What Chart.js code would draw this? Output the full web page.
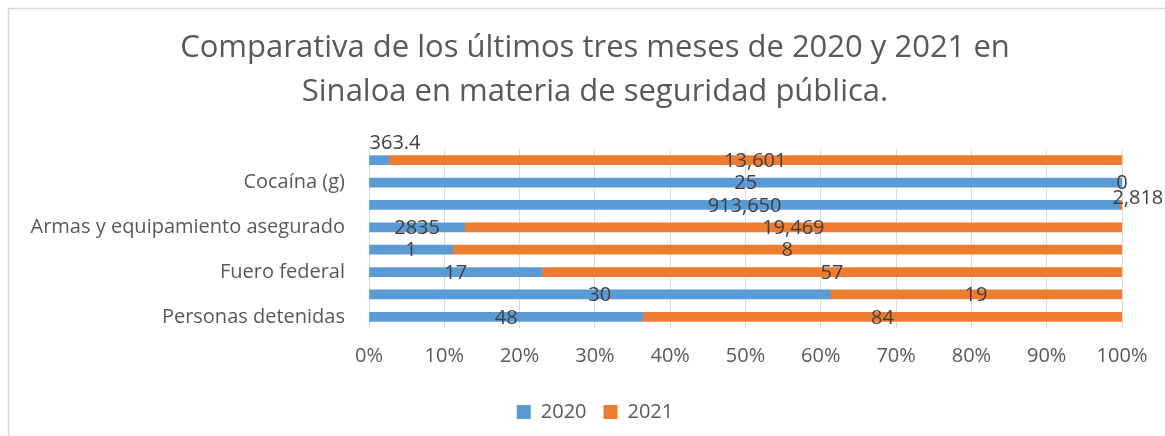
<!DOCTYPE html>
<html>
<head>
<meta charset="utf-8">
<script src="https://cdn.jsdelivr.net/npm/chart.js@4"></script>
<style>
  html, body { margin: 0; padding: 0; background: #ffffff; }
  #wrap { width: 1165px; height: 436px; }
</style>
</head>
<body>
<div id="wrap"><canvas id="chart" width="1165" height="436"></canvas></div>
<script>
// Categories, top to bottom (Excel skipped every other label)
const categories = ['', 'Cocaína (g)', '', 'Armas y equipamiento asegurado', '', 'Fuero federal', '', 'Personas detenidas'];
const values2020 = [363.4, 25, 913650, 2835, 1, 17, 30, 48];
const values2021 = [13601, 0, 2818, 19469, 8, 57, 19, 84];
const seriesNames = ['2020', '2021'];
const xTicks = [0, 10, 20, 30, 40, 50, 60, 70, 80, 90, 100];

const COLORS = {
  blue: '#5b9bd5',
  orange: '#ed7d31',
  axisText: '#595959',
  labelText: '#404040',
  grid: '#d9d9d9',
  frame: '#d9d9d9'
};
const FONT = '"Open Sans", Lato, sans-serif';

// 100% stacked: share of each year in the row total
const totals = values2020.map((v, i) => v + values2021[i]);
const pct2020 = values2020.map((v, i) => (v / totals[i]) * 100);
const pct2021 = values2021.map((v, i) => (v / totals[i]) * 100);
const rawValues = [values2020, values2021];

// label tweaks seen in the original (moved labels, one ungrouped number)
const labelShift = { '0-0': [16, -18], '1-2': [17, -8] };
const ungrouped = { '0-3': true };

function fmt(v, key) {
  if (ungrouped[key]) return String(v);
  return v.toLocaleString('en-US', { maximumFractionDigits: 1 });
}

const frame = {
  id: 'frame',
  beforeDraw(chart) {
    const ctx = chart.ctx;
    ctx.save();
    ctx.fillStyle = '#ffffff';
    ctx.fillRect(0, 0, chart.width, chart.height);
    ctx.strokeStyle = COLORS.frame;
    ctx.lineWidth = 1.5;
    ctx.beginPath();
    ctx.moveTo(8.5, chart.height);
    ctx.lineTo(8.5, 8.5);
    ctx.lineTo(chart.width, 8.5);
    ctx.stroke();
    ctx.restore();
  }
};

const dataLabels = {
  id: 'dataLabels',
  afterDatasetsDraw(chart) {
    const ctx = chart.ctx;
    ctx.save();
    ctx.font = '20px ' + FONT;
    ctx.fillStyle = COLORS.labelText;
    ctx.textAlign = 'center';
    ctx.textBaseline = 'middle';
    chart.data.datasets.forEach((ds, di) => {
      chart.getDatasetMeta(di).data.forEach((bar, i) => {
        const key = di + '-' + i;
        const shift = labelShift[key] || [0, 0];
        const x = (bar.x + bar.base) / 2 + shift[0];
        const y = bar.y + 1 + shift[1];
        ctx.fillText(fmt(rawValues[di][i], key), x, y);
      });
    });
    ctx.restore();
  }
};

new Chart(document.getElementById('chart'), {
  type: 'bar',
  data: {
    labels: categories,
    datasets: [
      { label: seriesNames[0], data: pct2020, backgroundColor: COLORS.blue, barThickness: 9 },
      { label: seriesNames[1], data: pct2021, backgroundColor: COLORS.orange, barThickness: 9 }
    ]
  },
  options: {
    indexAxis: 'y',
    responsive: false,
    animation: false,
    layout: { padding: { left: 25, right: 0, top: 0, bottom: 4 } },
    plugins: {
      title: {
        display: true,
        text: ['Comparativa de los últimos tres meses de 2020 y 2021 en', 'Sinaloa en materia de seguridad pública.'],
        color: COLORS.axisText,
        font: { family: FONT, size: 31, weight: 'normal', lineHeight: 44 / 31 },
        padding: { top: 26, bottom: 35 }
      },
      legend: {
        display: true,
        position: 'bottom',
        labels: {
          color: COLORS.axisText,
          font: { family: FONT, size: 20 },
          boxWidth: 14,
          boxHeight: 14,
          padding: 17
        }
      },
      tooltip: { enabled: false }
    },
    scales: {
      x: {
        stacked: true,
        min: 0,
        max: 100,
        afterBuildTicks(scale) {
          scale.ticks = xTicks.map((v) => ({ value: v }));
        },
        afterFit(scale) {
          scale.height = 57;
        },
        ticks: {
          color: COLORS.axisText,
          font: { family: FONT, size: 20 },
          padding: 16,
          maxRotation: 0,
          callback: (v) => v + '%'
        },
        grid: { color: COLORS.grid, lineWidth: 1, drawTicks: false },
        border: { display: false }
      },
      y: {
        stacked: true,
        afterFit(scale) {
          scale.width = 369 - 25;
        },
        ticks: {
          color: COLORS.axisText,
          font: { family: FONT, size: 20 },
          padding: 24,
          autoSkip: false
        },
        grid: { display: false, drawTicks: false },
        border: { display: false }
      },
      // empty spacer on the right so the plot stops at the 100% line
      spacer: {
        type: 'linear',
        position: 'right',
        display: true,
        afterFit(scale) {
          scale.width = 1165 - 1122;
        },
        ticks: { display: false },
        grid: { display: false },
        border: { display: false }
      }
    }
  },
  plugins: [frame, dataLabels]
});
</script>
</body>
</html>
